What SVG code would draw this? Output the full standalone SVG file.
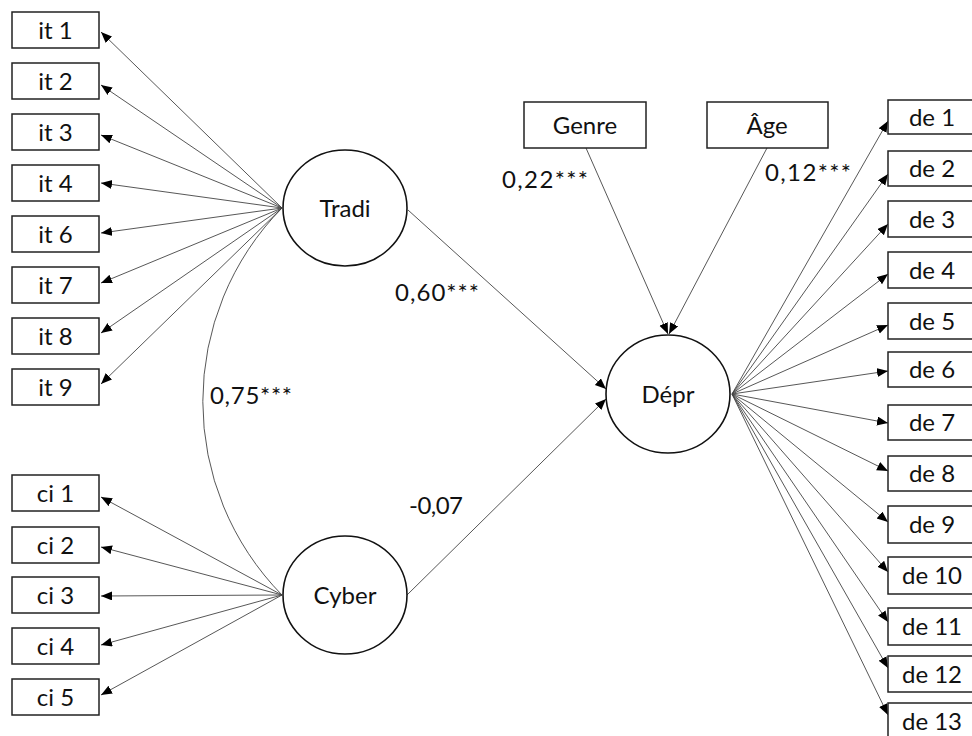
<svg xmlns="http://www.w3.org/2000/svg" width="972" height="736" viewBox="0 0 972 736">
<style>
.box{fill:#fff;stroke:#222;stroke-width:1.5}
.lat{fill:#fff;stroke:#111;stroke-width:1.6}
.t{font-family:Lato,"Liberation Sans",sans-serif;font-size:24px;fill:#111;text-anchor:middle}
.lb{font-family:Lato,"Liberation Sans",sans-serif;font-size:24px;fill:#111}
.c{stroke:#444;stroke-width:0.9;fill:none}
.a{marker-end:url(#ah)}
</style>
<defs>
<marker id="ah" markerUnits="userSpaceOnUse" markerWidth="12" markerHeight="10" refX="11" refY="4.5" orient="auto">
<path d="M0,0 L11,4.5 L0,9 z" fill="#000"/>
</marker>
</defs>
<rect width="972" height="736" fill="#fff"/>
<g id="connectors">
<path class="c" d="M282,208 A276,276 0 0 0 282,595"/>
<line class="c a" x1="282" y1="208" x2="101" y2="32"/>
<line class="c a" x1="282" y1="208" x2="101" y2="85"/>
<line class="c a" x1="282" y1="208" x2="101" y2="135"/>
<line class="c a" x1="282" y1="208" x2="101" y2="183"/>
<line class="c a" x1="282" y1="208" x2="101" y2="233"/>
<line class="c a" x1="282" y1="208" x2="101" y2="283"/>
<line class="c a" x1="282" y1="208" x2="101" y2="333"/>
<line class="c a" x1="282" y1="208" x2="101" y2="384"/>
<line class="c a" x1="282" y1="595" x2="101" y2="497"/>
<line class="c a" x1="282" y1="595" x2="101" y2="547"/>
<line class="c a" x1="282" y1="595" x2="101" y2="596"/>
<line class="c a" x1="282" y1="595" x2="101" y2="645"/>
<line class="c a" x1="282" y1="595" x2="101" y2="695"/>
<line class="c a" x1="408" y1="210" x2="606" y2="389"/>
<line class="c a" x1="407" y1="595" x2="606" y2="399"/>
<line class="c a" x1="586" y1="148" x2="668" y2="334"/>
<line class="c a" x1="767" y1="148" x2="669" y2="334"/>
<line class="c a" x1="732" y1="394" x2="888" y2="121"/>
<line class="c a" x1="732" y1="394" x2="888" y2="174"/>
<line class="c a" x1="732" y1="394" x2="888" y2="224"/>
<line class="c a" x1="732" y1="394" x2="888" y2="274"/>
<line class="c a" x1="732" y1="394" x2="888" y2="325"/>
<line class="c a" x1="732" y1="394" x2="888" y2="371"/>
<line class="c a" x1="732" y1="394" x2="888" y2="423"/>
<line class="c a" x1="732" y1="394" x2="888" y2="471"/>
<line class="c a" x1="732" y1="394" x2="888" y2="522"/>
<line class="c a" x1="732" y1="394" x2="888" y2="572"/>
<line class="c a" x1="732" y1="394" x2="888" y2="622"/>
<line class="c a" x1="732" y1="394" x2="888" y2="668"/>
<line class="c a" x1="732" y1="394" x2="888" y2="715"/>
</g>
<g id="labels">
<text class="lb" x="502" y="188" textLength="86" lengthAdjust="spacing">0,22***</text>
<text class="lb" x="765" y="181" textLength="86" lengthAdjust="spacing">0,12***</text>
<text class="lb" x="395" y="301" textLength="84" lengthAdjust="spacing">0,60***</text>
<text class="lb" x="210" y="404" textLength="82" lengthAdjust="spacing">0,75***</text>
<text class="lb" x="409" y="514" textLength="54" lengthAdjust="spacing">-0,07</text>
</g>
<g id="it1"><rect class="box" x="12" y="12" width="87" height="36"/><text class="t" x="55.5" y="39">it 1</text></g>
<g id="it2"><rect class="box" x="12" y="63" width="87" height="36"/><text class="t" x="55.5" y="90">it 2</text></g>
<g id="it3"><rect class="box" x="12" y="114" width="87" height="36"/><text class="t" x="55.5" y="141">it 3</text></g>
<g id="it4"><rect class="box" x="12" y="165" width="87" height="36"/><text class="t" x="55.5" y="192">it 4</text></g>
<g id="it6"><rect class="box" x="12" y="216" width="87" height="36"/><text class="t" x="55.5" y="243">it 6</text></g>
<g id="it7"><rect class="box" x="12" y="267" width="87" height="36"/><text class="t" x="55.5" y="294">it 7</text></g>
<g id="it8"><rect class="box" x="12" y="318" width="87" height="36"/><text class="t" x="55.5" y="345">it 8</text></g>
<g id="it9"><rect class="box" x="12" y="369" width="87" height="36"/><text class="t" x="55.5" y="396">it 9</text></g>
<g id="ci1"><rect class="box" x="12" y="475" width="87" height="36"/><text class="t" x="55.5" y="502">ci 1</text></g>
<g id="ci2"><rect class="box" x="12" y="527" width="87" height="36"/><text class="t" x="55.5" y="554">ci 2</text></g>
<g id="ci3"><rect class="box" x="12" y="577" width="87" height="36"/><text class="t" x="55.5" y="604">ci 3</text></g>
<g id="ci4"><rect class="box" x="12" y="628" width="87" height="36"/><text class="t" x="55.5" y="655">ci 4</text></g>
<g id="ci5"><rect class="box" x="12" y="679" width="87" height="36"/><text class="t" x="55.5" y="706">ci 5</text></g>
<g id="tradi"><ellipse class="lat" cx="345" cy="208" rx="62" ry="58"/><text class="t" x="345" y="217">Tradi</text></g>
<g id="cyber"><ellipse class="lat" cx="345" cy="595" rx="62" ry="59"/><text class="t" x="345" y="604">Cyber</text></g>
<g id="depr"><ellipse class="lat" cx="668" cy="394" rx="62" ry="59"/><text class="t" x="668" y="403">Dépr</text></g>
<g id="genre"><rect class="box" x="524" y="102" width="122" height="46"/><text class="t" x="585" y="134">Genre</text></g>
<g id="age"><rect class="box" x="707" y="102" width="121" height="46"/><text class="t" x="767" y="134">Âge</text></g>
<g id="de1"><rect class="box" x="888" y="100" width="88" height="34"/><text class="t" x="932" y="126">de 1</text></g>
<g id="de2"><rect class="box" x="888" y="151" width="88" height="35"/><text class="t" x="932" y="177">de 2</text></g>
<g id="de3"><rect class="box" x="888" y="201" width="88" height="36"/><text class="t" x="932" y="228">de 3</text></g>
<g id="de4"><rect class="box" x="888" y="252" width="88" height="36"/><text class="t" x="932" y="279">de 4</text></g>
<g id="de5"><rect class="box" x="888" y="303" width="88" height="36"/><text class="t" x="932" y="330">de 5</text></g>
<g id="de6"><rect class="box" x="888" y="352" width="88" height="35"/><text class="t" x="932" y="378">de 6</text></g>
<g id="de7"><rect class="box" x="888" y="405" width="88" height="35"/><text class="t" x="932" y="431">de 7</text></g>
<g id="de8"><rect class="box" x="888" y="456" width="88" height="35"/><text class="t" x="932" y="482">de 8</text></g>
<g id="de9"><rect class="box" x="888" y="506" width="88" height="37"/><text class="t" x="932" y="533">de 9</text></g>
<g id="de10"><rect class="box" x="888" y="557" width="88" height="37"/><text class="t" x="932" y="584">de 10</text></g>
<g id="de11"><rect class="box" x="888" y="608" width="88" height="37"/><text class="t" x="932" y="635">de 11</text></g>
<g id="de12"><rect class="box" x="888" y="656" width="88" height="36"/><text class="t" x="932" y="683">de 12</text></g>
<g id="de13"><rect class="box" x="888" y="703" width="88" height="37"/><text class="t" x="932" y="730">de 13</text></g>
</svg>
